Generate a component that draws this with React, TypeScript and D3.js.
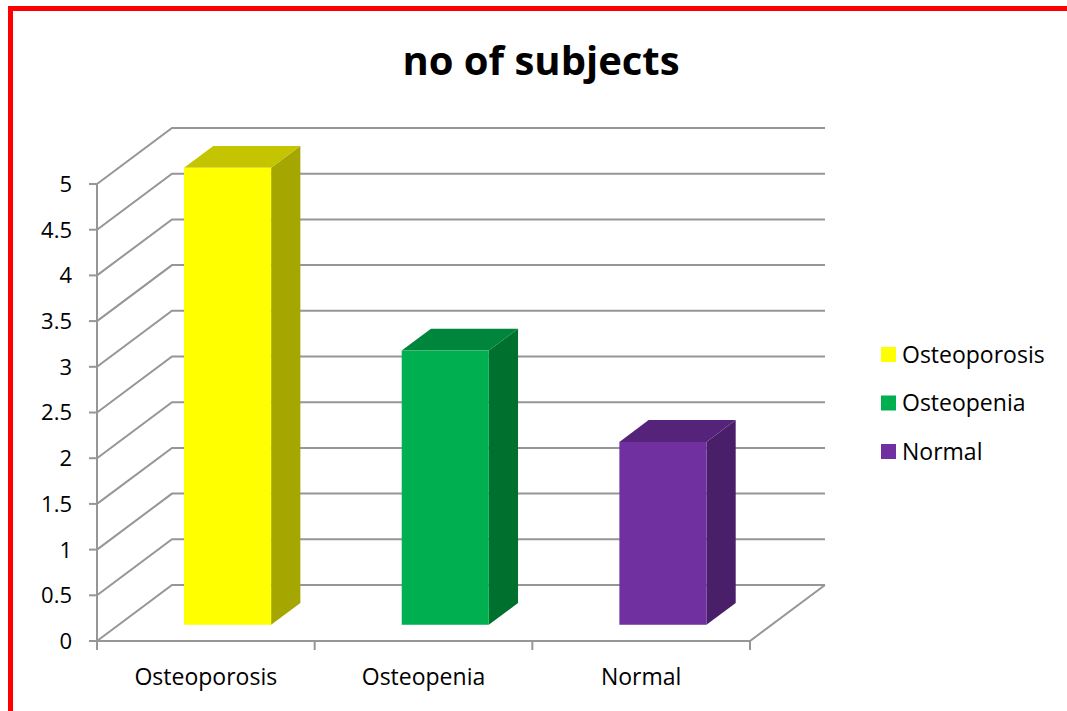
import React, {useEffect, useRef} from "react";
import * as d3 from "d3";

const categories = ["Osteoporosis", "Osteopenia", "Normal"];
const values = [5, 3, 2];
const yTicks = [0, 0.5, 1, 1.5, 2, 2.5, 3, 3.5, 4, 4.5, 5];
const frontColors = ["#FFFF00", "#00B050", "#7030A0"];
const topColors = ["#C4C400", "#00853D", "#55247A"];
const sideColors = ["#A6A600", "#00702F", "#4A1F69"];
const title = "no of subjects";

const W = 1067;
const H = 711;

const App: React.FC = () => {
	const svgRef = useRef<SVGSVGElement>(null);

	useEffect(() => {
		const svg = d3.select(svgRef.current);
		svg.selectAll("*").remove();

		const font = "'Open Sans', sans-serif";
		const grid = "#969696";

		// plot frame (front face of the 3d box)
		const left = 97;
		const right = 750;
		const depthX = 75;
		const depthY = -56;

		const y = d3.scaleLinear().domain([0, 5]).range([641, 184]);
		const x = d3.scaleBand<string>().domain(categories).range([left, right]);

		// red frame
		svg.append("rect").attr("x", 8).attr("y", 6).attr("width", W - 8).attr("height", 5).attr("fill", "#FF0000");
		svg.append("rect").attr("x", 8).attr("y", 6).attr("width", 5).attr("height", H - 6).attr("fill", "#FF0000");

		// title
		svg
			.append("text")
			.attr("x", 541)
			.attr("y", 75)
			.attr("text-anchor", "middle")
			.style("font-family", font)
			.style("font-weight", "bold")
			.style("font-size", "40px")
			.style("fill", "#000")
			.text(title);

		// back wall gridlines + side wall diagonals
		const g = svg.append("g");
		yTicks.forEach((t) => {
			g.append("path")
				.attr(
					"d",
					`M${left},${y(t)} L${left + depthX},${y(t) + depthY} L${right + depthX},${y(t) + depthY}`
				)
				.attr("fill", "none")
				.attr("stroke", grid)
				.attr("stroke-width", 2);
		});

		// floor right edge and front edge
		g.append("path")
			.attr("d", `M${left},${y(0)} L${right},${y(0)} L${right + depthX},${y(0) + depthY}`)
			.attr("fill", "none")
			.attr("stroke", grid)
			.attr("stroke-width", 2);

		// y axis
		g.append("line")
			.attr("x1", left)
			.attr("x2", left)
			.attr("y1", y(5))
			.attr("y2", y(0) + 9)
			.attr("stroke", grid)
			.attr("stroke-width", 2);

		yTicks.forEach((t) => {
			g.append("line")
				.attr("x1", left - 8)
				.attr("x2", left)
				.attr("y1", y(t))
				.attr("y2", y(t))
				.attr("stroke", grid)
				.attr("stroke-width", 2);
			g.append("text")
				.attr("x", 72)
				.attr("y", y(t))
				.attr("dy", "0.36em")
				.attr("text-anchor", "end")
				.style("font-family", font)
				.style("font-size", "22px")
				.style("fill", "#000")
				.text(String(t));
		});

		// x axis ticks at band boundaries
		const bounds = categories.map((c) => x(c) as number).concat([right]);
		bounds.forEach((b) => {
			g.append("line")
				.attr("x1", b)
				.attr("x2", b)
				.attr("y1", y(0))
				.attr("y2", y(0) + 9)
				.attr("stroke", grid)
				.attr("stroke-width", 2);
		});

		categories.forEach((c) => {
			g.append("text")
				.attr("x", (x(c) as number) + x.bandwidth() / 2)
				.attr("y", 685)
				.attr("text-anchor", "middle")
				.style("font-family", font)
				.style("font-size", "23px")
				.style("fill", "#000")
				.text(c);
		});

		// bars (3d boxes)
		const frontDepth = 0.29;
		const sideDepth = 0.39;
		const barW = x.bandwidth() * 0.4;
		const sdx = depthX * sideDepth;
		const sdy = depthY * sideDepth;

		const bars = svg.append("g");
		categories.forEach((c, i) => {
			const x0 = (x(c) as number) + x.bandwidth() / 2 - barW / 2 + depthX * frontDepth;
			const x1 = x0 + barW;
			const yb = y(0) + depthY * frontDepth;
			const yt = y(values[i]) + depthY * frontDepth;

			bars.append("path")
				.attr("d", `M${x1},${yt} L${x1 + sdx},${yt + sdy} L${x1 + sdx},${yb + sdy} L${x1},${yb} Z`)
				.attr("fill", sideColors[i]);
			bars.append("path")
				.attr("d", `M${x0},${yt} L${x0 + sdx},${yt + sdy} L${x1 + sdx},${yt + sdy} L${x1},${yt} Z`)
				.attr("fill", topColors[i]);
			bars.append("rect")
				.attr("x", x0)
				.attr("y", yt)
				.attr("width", barW)
				.attr("height", yb - yt)
				.attr("fill", frontColors[i]);
		});

		// legend
		const legend = svg.append("g").attr("transform", "translate(881, 347)");
		categories.forEach((c, i) => {
			const item = legend.append("g").attr("transform", `translate(0, ${i * 48.5})`);
			item.append("rect").attr("width", 15).attr("height", 15).attr("fill", frontColors[i]);
			item.append("text")
				.attr("x", 21)
				.attr("y", 7.5)
				.attr("dy", "0.36em")
				.style("font-family", font)
				.style("font-size", "23px")
				.style("fill", "#000")
				.text(c);
		});
	}, []);

	return (
		<div style={{position: "absolute", left: 0, top: 0, width: W, height: H, background: "#fff"}}>
			<svg ref={svgRef} width={W} height={H} style={{display: "block"}} />
		</div>
	);
};

export default App;
